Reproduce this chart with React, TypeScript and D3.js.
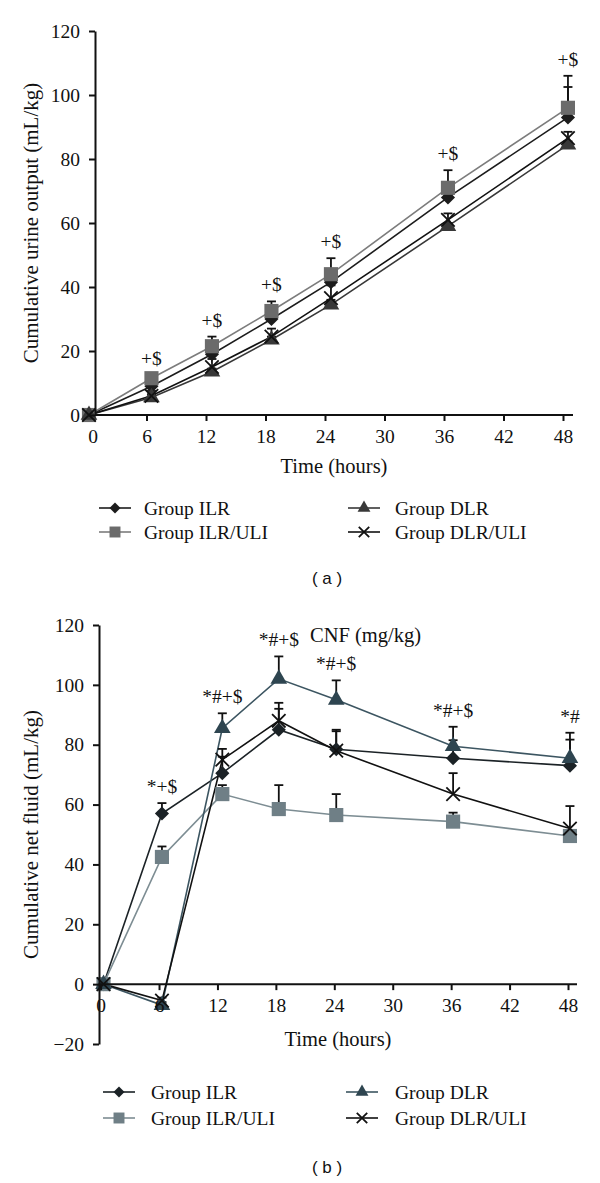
import React from 'react';
import * as d3 from 'd3';

// ---- panel (a): cumulative urine output ----
const hoursA = [0.2, 6.5, 12.6, 18.6, 24.6, 36.4, 48.5];
const xTicksA = [0, 6, 12, 18, 24, 30, 36, 42, 48];
const yTicksA = [0, 20, 40, 60, 80, 100, 120];
const ilrA = [0, 9, 19, 30, 41.5, 68, 93];
const ilrAErr = [0, 1.5, 2, 2, 3, 4, 9.5];
const iluA = [0, 11.5, 21.5, 32.5, 44, 71, 96];
const iluAErr = [0, 1, 3, 3, 5, 5.5, 10];
const dlrA = [0, 5.5, 13.5, 23.5, 34.5, 59, 84.5];
const dlrAErr = [0, 1, 1, 1, 1.5, 1, 1];
const dluA = [0, 6, 15, 24.5, 36.5, 61, 86.5];
const dluAErr = [0, 1.5, 2.5, 2.5, 4, 2, 2];
const marksA = ['', '+$', '+$', '+$', '+$', '+$', '+$'];

// ---- panel (b): cumulative net fluid ----
const hoursB = [0.3, 6.3, 12.5, 18.3, 24.2, 36.2, 48.2];
const xTicksB = [0, 6, 12, 18, 24, 30, 36, 42, 48];
const yTicksB = [-20, 0, 20, 40, 60, 80, 100, 120];
const ilrB = [0, 57, 70.5, 85, 78.5, 75.5, 73];
const ilrBErr = [0, 3.5, 5.5, 7, 6, 6, 8.7];
const iluB = [0, 42.5, 63.5, 58.5, 56.5, 54.3, 49.5];
const iluBErr = [0, 3.5, 3, 8, 7, 3, 2];
const dlrB = [0, -7, 85.5, 102, 95, 79.5, 75.5];
const dlrBErr = [0, 1, 5, 7.5, 6.5, 6.5, 8.5];
const dluB = [0, -5.5, 75, 88, 78, 63.5, 52];
const dluBErr = [0, 1, 3.6, 6, 7, 7, 7.5];
const marksB = ['', '*+$', '*#+$', '*#+$', '*#+$', '*#+$', '*#'];

const groupNames = ['Group ILR', 'Group ILR/ULI', 'Group DLR', 'Group DLR/ULI'];
const shapes = ['diamond', 'square', 'triangle', 'cross'];

const SERIF = '"Liberation Serif", "Times New Roman", serif';
const SANS = '"Liberation Sans", Arial, sans-serif';

interface Series {
  name: string;
  shape: string;
  values: number[];
  errors: number[];
  fill: string;
  line: string;
}

interface Panel {
  hours: number[];
  series: Series[];
  marks: string[];
  xRange: [number, number];
  yDomain: [number, number];
  yRange: [number, number];
  yAxisX: number;
  xAxisEnd: number;
  xTicks: number[];
  yTicks: number[];
  yTitle: string;
  yTitleX: number;
  xTitleY: number;
  legendX: [number, number];
  legendTextX: [number, number];
  legendY: [number, number];
  label: string;
  labelY: number;
  hideZeroTick: boolean;
}

function symbolPath(shape: string, size: number) {
  if (shape === 'diamond') return d3.symbol(d3.symbolSquare, size * 0.5)() as string;
  if (shape === 'square') return d3.symbol(d3.symbolSquare, size)() as string;
  if (shape === 'triangle') return d3.symbol(d3.symbolTriangle, size * 0.6)() as string;
  const h = Math.sqrt(size) / 2.1;
  return `M${-h},${-h}L${h},${h}M${-h},${h}L${h},${-h}`;
}

function drawMarker(g: any, shape: string, x: number, y: number, size: number, fill: string) {
  const p = g.append('path')
    .attr('d', symbolPath(shape, size))
    .attr('transform', `translate(${x},${y})${shape === 'diamond' ? ' rotate(45)' : ''}`);
  if (shape === 'cross') {
    p.attr('fill', 'none').attr('stroke', fill).attr('stroke-width', 1.8);
  } else {
    p.attr('fill', fill);
  }
}

function drawPanel(svg: any, cfg: Panel) {
  const x = d3.scaleLinear().domain([0, 48]).range(cfg.xRange);
  const y = d3.scaleLinear().domain(cfg.yDomain).range(cfg.yRange);
  const g = svg.append('g');

  // lines
  cfg.series.forEach(s => {
    const line = d3.line<number>()
      .x((_, i) => x(cfg.hours[i]))
      .y(d => y(d));
    g.append('path')
      .datum(s.values)
      .attr('fill', 'none')
      .attr('stroke', s.line)
      .attr('stroke-width', 1.6)
      .attr('d', line);
  });

  // error bars (upper only)
  cfg.series.forEach(s => {
    s.values.forEach((v, i) => {
      if (!s.errors[i]) return;
      const cx = x(cfg.hours[i]);
      const top = y(v + s.errors[i]);
      g.append('line')
        .attr('x1', cx).attr('x2', cx)
        .attr('y1', y(v)).attr('y2', top)
        .attr('stroke', '#111').attr('stroke-width', 1.8);
      g.append('line')
        .attr('x1', cx - 4.5).attr('x2', cx + 4.5)
        .attr('y1', top).attr('y2', top)
        .attr('stroke', '#111').attr('stroke-width', 1.8);
    });
  });

  // markers
  cfg.series.forEach(s => {
    s.values.forEach((v, i) => {
      drawMarker(g, s.shape, x(cfg.hours[i]), y(v), 200, s.fill);
    });
  });

  // significance marks
  cfg.marks.forEach((m, i) => {
    if (!m) return;
    const top = d3.max(cfg.series, s => s.values[i] + s.errors[i]) || 0;
    g.append('text')
      .attr('x', x(cfg.hours[i]))
      .attr('y', y(top) - 10)
      .attr('text-anchor', 'middle')
      .attr('font-family', SERIF)
      .attr('font-size', 19.5)
      .attr('fill', '#111')
      .text(m);
  });

  // y axis
  const yAxis = g.append('g')
    .attr('transform', `translate(${cfg.yAxisX},0)`)
    .call(d3.axisLeft(y).tickValues(cfg.yTicks).tickSize(6).tickPadding(9).tickSizeOuter(0)
      .tickFormat(d => (+d < 0 ? '\u2212' + Math.abs(+d) : String(d))));
  yAxis.selectAll('path, line').attr('stroke', '#111').attr('stroke-width', 2);
  yAxis.selectAll('text').attr('font-family', SERIF).attr('font-size', 19.5).attr('fill', '#111');

  // x axis at y=0
  const xAxis = g.append('g')
    .attr('transform', `translate(0,${y(0)})`)
    .call(d3.axisBottom(x).tickValues(cfg.xTicks).tickSize(6).tickPadding(8).tickSizeOuter(0));
  xAxis.select('.domain').remove();
  xAxis.selectAll('line').attr('stroke', '#111').attr('stroke-width', 2);
  if (cfg.hideZeroTick) {
    xAxis.selectAll('.tick').filter((d: any) => d === 0).select('line').remove();
    xAxis.selectAll('.tick').filter((d: any) => d === 0).attr('transform', `translate(${cfg.yAxisX - 2},0)`);
  }
  xAxis.selectAll('text').attr('font-family', SERIF).attr('font-size', 19.5).attr('fill', '#111');
  g.append('line')
    .attr('x1', cfg.yAxisX).attr('x2', cfg.xAxisEnd)
    .attr('y1', y(0)).attr('y2', y(0))
    .attr('stroke', '#111').attr('stroke-width', 2);

  // titles
  g.append('text')
    .attr('x', (cfg.yAxisX + cfg.xAxisEnd) / 2)
    .attr('y', cfg.xTitleY)
    .attr('text-anchor', 'middle')
    .attr('font-family', SERIF)
    .attr('font-size', 20.5)
    .attr('fill', '#111')
    .text('Time (hours)');
  const yMid = (cfg.yRange[0] + cfg.yRange[1]) / 2;
  g.append('text')
    .attr('transform', `translate(${cfg.yTitleX},${yMid}) rotate(-90)`)
    .attr('text-anchor', 'middle')
    .attr('font-family', SERIF)
    .attr('font-size', 21)
    .attr('fill', '#111')
    .text(cfg.yTitle);

  // legend: 2 columns x 2 rows
  const order = [0, 2, 1, 3];
  order.forEach((si, k) => {
    const s = cfg.series[si];
    const col = k % 2;
    const row = Math.floor(k / 2);
    const lx = cfg.legendX[col];
    const ly = cfg.legendY[row];
    g.append('line')
      .attr('x1', lx).attr('x2', lx + 32)
      .attr('y1', ly).attr('y2', ly)
      .attr('stroke', s.line).attr('stroke-width', 1.6);
    drawMarker(g, s.shape, lx + 16, ly, 120, s.fill);
    g.append('text')
      .attr('x', cfg.legendTextX[col])
      .attr('y', ly)
      .attr('dy', '0.35em')
      .attr('font-family', SERIF)
      .attr('font-size', 19.5)
      .attr('fill', '#111')
      .text(s.name);
  });

  g.append('text')
    .attr('x', 327)
    .attr('y', cfg.labelY)
    .attr('dy', '0.35em')
    .attr('text-anchor', 'middle')
    .attr('font-family', SANS)
    .attr('font-size', 17)
    .attr('fill', '#111')
    .text(cfg.label);

  return { x, y, g };
}

const App: React.FC = () => {
  const svgRef = React.useRef<SVGSVGElement>(null);

  React.useEffect(() => {
    if (!svgRef.current) return;
    const svg = d3.select(svgRef.current);
    svg.selectAll('*').remove();

    const colorsA = [
      { fill: '#1c1c1c', line: '#1c1c1c' },
      { fill: '#6b6b6b', line: '#7c7c7c' },
      { fill: '#383838', line: '#383838' },
      { fill: '#111111', line: '#111111' },
    ];
    const colorsB = [
      { fill: '#1b2226', line: '#1b2226' },
      { fill: '#6f7f86', line: '#7d8d93' },
      { fill: '#2e4550', line: '#3c5561' },
      { fill: '#111111', line: '#111111' },
    ];
    const valsA = [ilrA, iluA, dlrA, dluA];
    const errsA = [ilrAErr, iluAErr, dlrAErr, dluAErr];
    const valsB = [ilrB, iluB, dlrB, dluB];
    const errsB = [ilrBErr, iluBErr, dlrBErr, dluBErr];

    const seriesA: Series[] = groupNames.map((n, i) => ({
      name: n, shape: shapes[i], values: valsA[i], errors: errsA[i], ...colorsA[i],
    }));
    const seriesB: Series[] = groupNames.map((n, i) => ({
      name: n, shape: shapes[i], values: valsB[i], errors: errsB[i], ...colorsB[i],
    }));

    drawPanel(svg, {
      hours: hoursA, series: seriesA, marks: marksA,
      xRange: [87, 563], yDomain: [0, 120], yRange: [415, 31],
      yAxisX: 95, xAxisEnd: 573, xTicks: xTicksA, yTicks: yTicksA,
      yTitle: 'Cumulative urine output (mL/kg)', yTitleX: 38, xTitleY: 473,
      legendX: [99, 348], legendTextX: [144, 395], legendY: [508, 532],
      label: '( a )', labelY: 578, hideZeroTick: true,
    });

    const b = drawPanel(svg, {
      hours: hoursB, series: seriesB, marks: marksB,
      xRange: [100.6, 568], yDomain: [-20, 120], yRange: [1044, 625],
      yAxisX: 99, xAxisEnd: 577, xTicks: xTicksB, yTicks: yTicksB,
      yTitle: 'Cumulative net fluid (mL/kg)', yTitleX: 38, xTitleY: 1046,
      legendX: [103, 346], legendTextX: [151, 395], legendY: [1092, 1118],
      label: '( b )', labelY: 1167, hideZeroTick: false,
    });

    b.g.append('text')
      .attr('x', b.x(21.5))
      .attr('y', b.y(114.4))
      .attr('font-family', SERIF)
      .attr('font-size', 20.5)
      .attr('fill', '#111')
      .text('CNF (mg/kg)');
  }, []);

  return (
    <svg
      ref={svgRef}
      width={600}
      height={1183}
      style={{ position: 'absolute', left: 0, top: 0, display: 'block', background: '#fff' }}
    />
  );
};

export default App;
